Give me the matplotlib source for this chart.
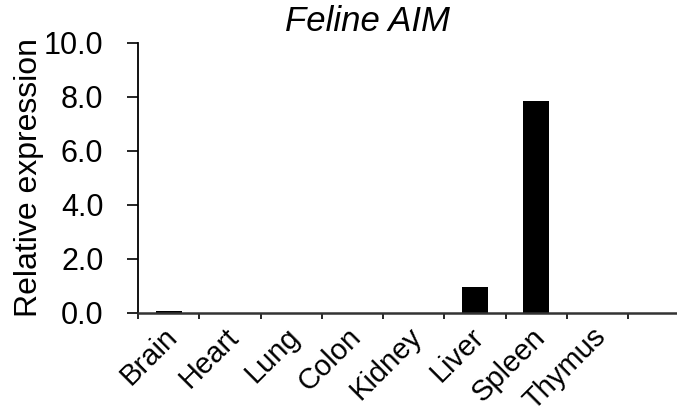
import numpy as np
import matplotlib.pyplot as plt
from matplotlib.transforms import ScaledTranslation

plt.rcParams['font.family'] = ['Liberation Sans', 'DejaVu Sans']

tissues = ['Brain', 'Heart', 'Lung', 'Colon', 'Kidney', 'Liver', 'Spleen', 'Thymus']
expression = [0.08, 0.01, 0.01, 0.01, 0.01, 0.97, 7.86, 0.01]

fig = plt.figure(figsize=(6.77, 4.16), dpi=100)
ax = fig.add_axes([0.204, 0.248, 0.796, 0.649])

x = np.arange(len(tissues))
ax.bar(x, expression, width=0.43, color='black')

ax.set_xlim(-0.5, 8.3)
ax.set_ylim(0, 10)
ax.set_yticks(np.arange(0, 10.1, 2))
ax.set_yticklabels(['%.1f' % v for v in np.arange(0, 10.1, 2)])

# ticks sit between the categories
ax.set_xticks(np.arange(-0.5, 8, 1), minor=False)
ax.set_xticklabels([])
ax.set_xticks(x, minor=True)
ax.set_xticklabels(tissues, minor=True, rotation=45, ha='right',
                   rotation_mode='anchor', fontsize=21)
ax.tick_params(axis='x', which='minor', length=0, pad=7)
ax.tick_params(axis='x', which='major', length=4, width=1.2, direction='out')
ax.tick_params(axis='y', length=8, width=1.2, direction='out', pad=17, labelsize=22)

shift = ScaledTranslation(-4 / 72, 0, fig.dpi_scale_trans)
for lbl in ax.get_xticklabels(minor=True):
    lbl.set_transform(lbl.get_transform() + shift)

for side in ['top', 'right']:
    ax.spines[side].set_visible(False)
ax.spines['left'].set_linewidth(1.3)
ax.spines['bottom'].set_linewidth(1.8)
ax.spines['bottom'].set_color('#333333')

ax.set_ylabel('Relative expression', fontsize=23, labelpad=0)
fig.text(0.543, 0.948, 'Feline AIM', fontsize=25, style='italic', ha='center', va='center')

fig.savefig('out.png', dpi=100)
